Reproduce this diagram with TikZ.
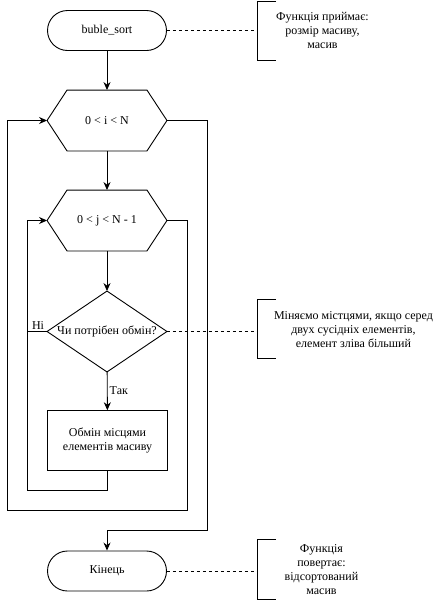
\documentclass[tikz,border=0pt]{standalone}
\usepackage{fontspec}
\setmainfont{Liberation Serif}
\usetikzlibrary{arrows.meta}
\begin{document}
\begin{tikzpicture}[x=1pt,y=-1pt,line width=0.9pt,
  font=\fontsize{12}{14}\selectfont,
  every node/.style={inner sep=0pt},
  term/.style={draw,rounded corners=20pt,minimum width=119pt,minimum height=40pt},
  box/.style={minimum width=119pt,minimum height=60pt,align=center},
  procbox/.style={draw,minimum width=119.5pt,minimum height=60pt,align=center},
  dia/.style={minimum width=119pt,minimum height=80pt},
  note/.style={minimum height=58.5pt,align=center,anchor=west},
  arr/.style={-{Stealth[length=8pt,width=7pt]}},
  link/.style={dashed,line width=0.7pt},
  lbl/.style={inner sep=2pt}]
\useasboundingbox (0,0) rectangle (438,603);

% main nodes
\node[term] (start) at (107,30.5) {buble\_sort};
\node[box] (h1) at (107,120.5) {0 < i < N};
\node[box] (h2) at (107,220.5) {0 < j < N - 1};
\node[dia] (d) at (107,331.5) {Чи потрібен обмін?};
\node[procbox] (p) at (107.5,440.7) {Обмін місцями\\елементів масиву};
\node[term] (end) at (107,571) {Кінець};

% hexagons and diamond outlines
\foreach \h in {h1,h2}{
  \draw ([xshift=20pt]\h.north west) -- ([xshift=-20pt]\h.north east) -- (\h.east)
        -- ([xshift=-20pt]\h.south east) -- ([xshift=20pt]\h.south west) -- (\h.west) -- cycle;
}
\draw (d.north) -- (d.east) -- (d.south) -- (d.west) -- cycle;

% notes
\node[note,minimum width=130pt] (n1) at (257,30.7) {Функція приймає:\\ розмір масиву,\\ масив};
\node[note,minimum width=192pt] (n2) at (257,329.2) {Міняємо містцями, якщо серед\\двух сусідніх елементів,\\елемент зліва більший};
\node[note,minimum width=128pt] (n3) at (257,569.5) {Функція\\повертає:\\відсортований\\масив};
\foreach \n in {n1,n2,n3}{
  \draw ([xshift=19pt]\n.north west) -- (\n.north west) -- (\n.south west) -- ([xshift=19pt]\n.south west);
}
\draw[link] (start.east) -- (start.east -| n1.west);
\draw[link] (d.east) -- (d.east -| n2.west);
\draw[link] (end.east) -- (end.east -| n3.west);

% loop corner coordinates
\coordinate (l2) at (27,490);
\coordinate (r2) at (187,510);
\coordinate (l1) at (7,510);
\coordinate (r1) at (207,530.7);

% connectors
\draw[arr] (start) -- (h1);
\draw[arr] (h1) -- (h2);
\draw[arr] (h2) -- (d);
\draw[arr] (d) -- node[lbl,right,pos=0.5] {Так} (p);
\draw[arr] (p.south) |- (l2) |- (h2.west);
\draw (d.west) -- node[lbl,above,pos=0.45] {Ні} (d.west -| l2);
\draw[arr] (h2.east) -| (r2) -- (l1) |- (h1.west);
\draw[arr] (h1.east) -| (r1) -| (end.north);
\end{tikzpicture}
\end{document}
